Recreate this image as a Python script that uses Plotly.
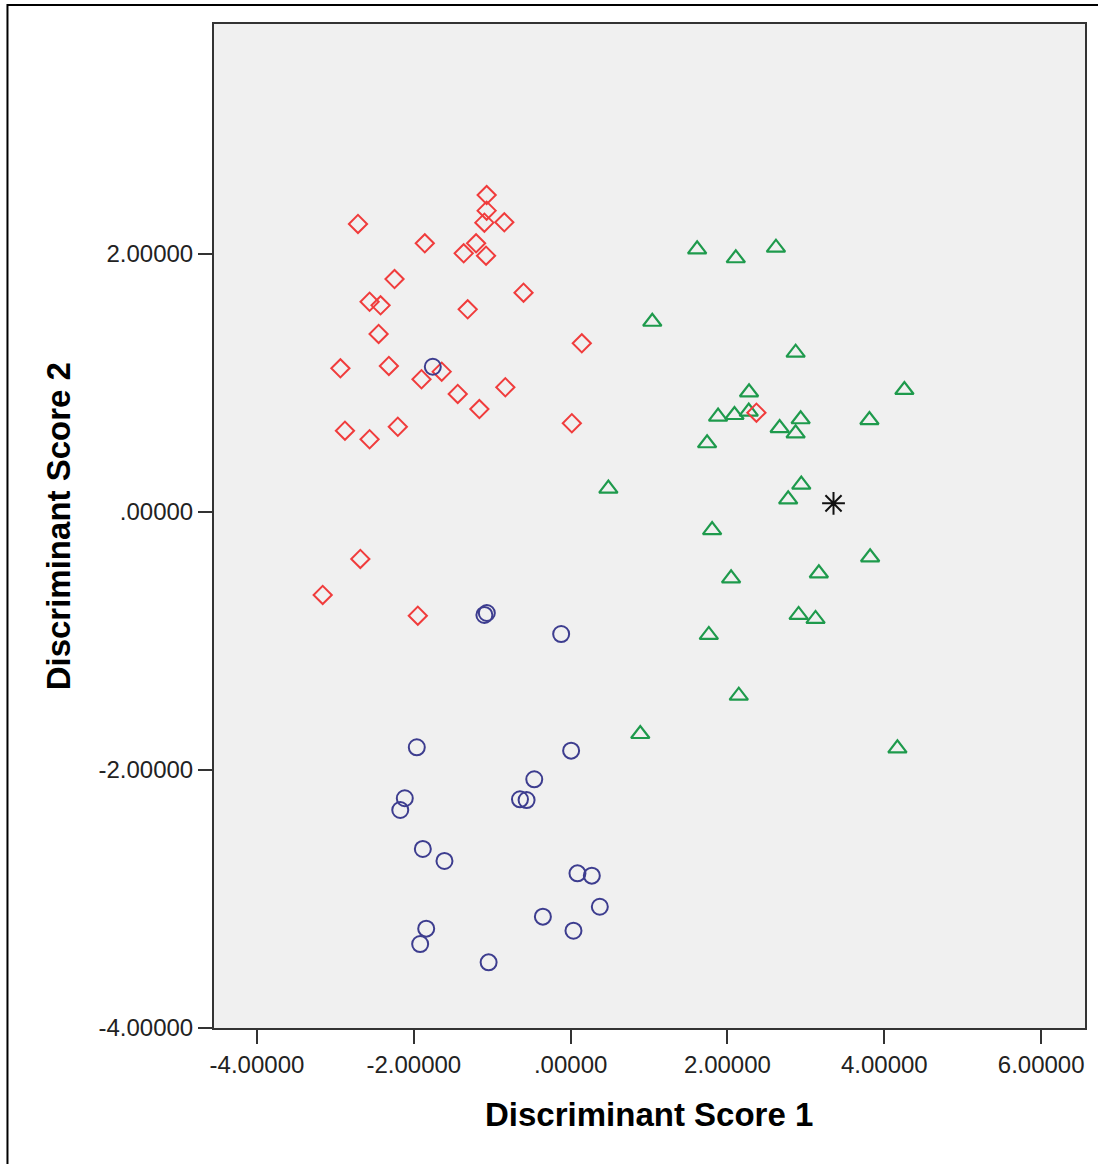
import plotly.graph_objects as go

# Group 1 (blue circles)
g1_x = [-1.100, -1.069, -0.121, -1.962, 0.006, -0.464, -2.115, -2.173, -0.646, -0.562,
        -1.885, -1.609, 0.087, 0.270, 0.372, -0.354, 0.036, -1.842, -1.919, -1.046, -1.758]
g1_y = [-0.798, -0.783, -0.946, -1.824, -1.850, -2.072, -2.219, -2.310, -2.227, -2.233,
        -2.612, -2.705, -2.801, -2.819, -3.060, -3.137, -3.246, -3.230, -3.349, -3.491, 1.126]

# Group 2 (red diamonds)
g2_x = [-1.071, -1.071, -1.100, -0.846, -2.712, -1.860, -1.206, -1.364, -1.079, -2.246,
        -2.564, -2.424, -0.601, -1.313, -2.449, 0.142, -2.936, -2.318, -1.644, -1.902,
        -1.440, -0.833, -1.164, 0.015, -2.878, -2.564, -2.204, -2.682, -3.162, -1.949, 2.369]
g2_y = [2.457, 2.336, 2.243, 2.246, 2.233, 2.083, 2.083, 2.005, 1.987, 1.806,
        1.630, 1.602, 1.700, 1.571, 1.380, 1.308, 1.114, 1.132, 1.088, 1.029,
        0.915, 0.967, 0.798, 0.688, 0.630, 0.564, 0.661, -0.364, -0.643, -0.804, 0.770]

# Group 3 (green triangles)
g3_x = [1.613, 2.106, 2.618, 1.041, 2.869, 2.275, 4.256, 1.880, 2.089, 2.271,
        2.933, 2.665, 2.869, 3.810, 1.740, 0.481, 2.941, 2.774, 1.804, 3.819,
        2.046, 3.165, 2.907, 3.123, 1.762, 2.144, 0.888, 4.167]
g3_y = [2.036, 1.967, 2.049, 1.475, 1.235, 0.928, 0.946, 0.739, 0.752, 0.778,
        0.719, 0.651, 0.610, 0.713, 0.533, 0.181, 0.212, 0.098, -0.140, -0.351,
        -0.514, -0.475, -0.798, -0.829, -0.953, -1.424, -1.721, -1.832]

# Ungrouped case (asterisk)
u_x = [3.352]
u_y = [0.067]

tick_vals = [-4, -2, 0, 2, 4, 6]
x_tick_text = ["-4.00000", "-2.00000", ".00000", "2.00000", "4.00000", "6.00000"]
y_tick_vals = [-4, -2, 0, 2]
y_tick_text = ["-4.00000", "-2.00000", ".00000", "2.00000"]

fig = go.Figure()
fig.add_trace(go.Scatter(x=g3_x, y=g3_y, mode="markers",
                         marker=dict(symbol="triangle-up-open", size=16, color="#1e9a4c",
                                     line=dict(width=2.2, color="#1e9a4c"))))
fig.add_trace(go.Scatter(x=g2_x, y=g2_y, mode="markers",
                         marker=dict(symbol="diamond-open", size=14, color="#f03c3c",
                                     line=dict(width=2, color="#f03c3c"))))
fig.add_trace(go.Scatter(x=g1_x, y=g1_y, mode="markers",
                         marker=dict(symbol="circle-open", size=16, color="#3d3d8f",
                                     line=dict(width=2, color="#3d3d8f"))))
fig.add_trace(go.Scatter(x=u_x, y=u_y, mode="markers",
                         marker=dict(symbol="asterisk-open", size=19, color="#111111",
                                     line=dict(width=2, color="#111111"))))

L, R, T, B = 214, 11, 24, 136
W, H = 1098, 1164
pw, ph = W - L - R, H - T - B

def px_x(px):
    return (px - L) / pw

def px_y(py):
    return (H - B - py) / ph

axis_common = dict(showgrid=False, zeroline=False, showline=True, linecolor="#333333",
                   linewidth=2, mirror=True, ticks="outside", ticklen=14, tickwidth=2,
                   tickcolor="#333333",
                   tickfont=dict(family="Liberation Sans, Arial, sans-serif", size=24, color="#222222"))

fig.update_layout(
    width=W, height=H,
    margin=dict(l=L, r=R, t=T, b=B, pad=0),
    paper_bgcolor="white", plot_bgcolor="#f0f0f0",
    showlegend=False,
    xaxis=dict(range=[-4.548, 6.559], tickvals=tick_vals, ticktext=x_tick_text, **axis_common),
    yaxis=dict(range=[-4.0, 3.783], tickvals=y_tick_vals, ticktext=y_tick_text, **axis_common),
    annotations=[
        dict(text="<b>Discriminant Score 1</b>", xref="paper", yref="paper",
             x=px_x(650), y=px_y(1114), xanchor="center", yanchor="middle", showarrow=False,
             font=dict(family="Liberation Sans, Arial, sans-serif", size=33, color="#000000")),
        dict(text="<b>Discriminant Score 2</b>", xref="paper", yref="paper",
             x=px_x(58), y=px_y(526), xanchor="center", yanchor="middle", showarrow=False,
             textangle=-90,
             font=dict(family="Liberation Sans, Arial, sans-serif", size=33, color="#000000")),
    ],
    shapes=[
        dict(type="rect", xref="paper", yref="paper",
             x0=px_x(7), x1=px_x(1102), y0=px_y(1170), y1=px_y(5),
             line=dict(color="#000000", width=2), fillcolor="rgba(0,0,0,0)", layer="below"),
    ],
)

fig.write_html("out.html", config={"displayModeBar": False},
               post_script="document.body.style.margin='0';document.body.style.overflow='hidden';")
